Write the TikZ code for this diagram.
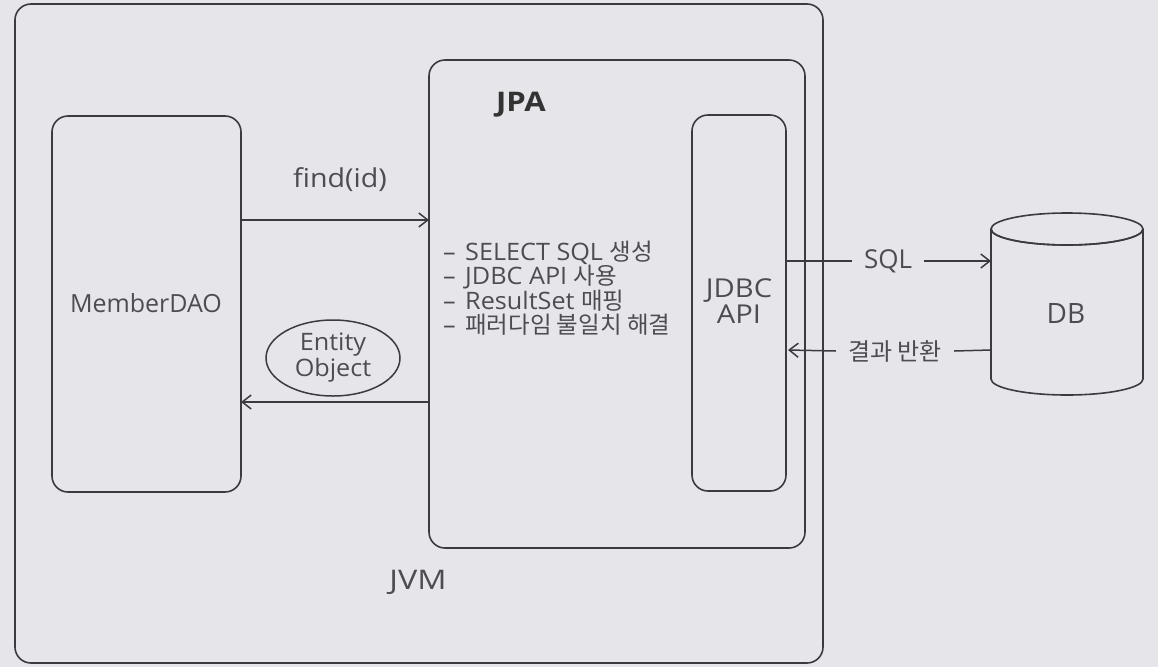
\documentclass[tikz,border=0pt]{standalone}
\usepackage{fontspec}
\setmainfont{Open Sans}
\newfontfamily\kr{Noto Sans CJK KR}
\usetikzlibrary{shapes.geometric,arrows.meta}
\definecolor{bg}{HTML}{E6E6EA}
\definecolor{ln}{HTML}{3A3A40}
\definecolor{tx}{HTML}{4C4C52}
\newcommand{\widen}[1]{\addfontfeatures{FakeStretch=#1}}
\newcommand{\krs}[1]{{\kr\fontsize{23.5}{24.5}\selectfont #1}}
\newcommand{\itm}{\makebox[22pt][l]{–}}
\tikzset{
  box/.style={draw=ln,line width=1.6pt,rounded corners=16pt},
  lbl/.style={text=tx,font=\fontsize{25}{26}\selectfont,inner sep=0pt},
  li/.style={lbl,anchor=base west,font=\fontsize{24}{24.5}\selectfont\widen{1.05}},
  arr/.style={draw=ln,line width=1.5pt,-{Straight Barb[length=9pt,width=14pt,line width=1.5pt]}},
  ln/.style={draw=ln,line width=1.5pt}
}
\begin{document}
\begin{tikzpicture}[x=1pt,y=-1pt]
\fill[bg] (0,0) rectangle (1158,667);
\useasboundingbox (0,0) rectangle (1158,667);
% JVM
\draw[box] (15,4) rectangle (823,663);
\node[lbl,font=\fontsize{27}{28}\selectfont\widen{1.2}] (jvm) at (418,582) {JVM};
% MemberDAO
\draw[box] (52,116) rectangle (241,492);
\coordinate (daoR1) at (241,220);
\coordinate (daoR2) at (241,402);
\node[lbl] (dao) at (146,303) {MemberDAO};
% JPA
\draw[box] (429,60) rectangle (805,548);
\coordinate (jpaL1) at (429,220);
\coordinate (jpaL2) at (429,402);
\node[lbl,font=\fontsize{27}{30}\selectfont\bfseries\widen{1.15},text=black!80] (jpa) at (521,105) {JPA};
\node[li] (l1) at (443,260) {\itm SELECT SQL \krs{생성}};
\node[li] (l2) at (443,284.5) {\itm JDBC API \krs{사용}};
\node[li] (l3) at (443,309) {\itm ResultSet \krs{매핑}};
\node[li] (l4) at (443,333.5) {\itm\krs{패러다임 불일치 해결}};
% JDBC API
\draw[box] (692,115) rectangle (786,491);
\node[lbl,align=center,font=\fontsize{26}{26}\selectfont\widen{1.12}] (jdbc) at (739,301) {JDBC\\API};
\coordinate (jdbcR1) at (786,261);
\coordinate (jdbcR2) at (788,350);
% find / return
\draw[arr] (daoR1) -- (jpaL1);
\node[lbl,font=\fontsize{26}{26}\selectfont\widen{1.1}] (find) at (340,180) {find(id)};
\draw[arr] (jpaL2) -- (daoR2);
\node[draw=ln,line width=1.5pt,ellipse,minimum width=134pt,minimum height=76pt,inner sep=0pt] (ent) at (333,358) {};
\node[lbl,align=center,font=\fontsize{24}{26}\selectfont\widen{1.05}] (entt) at (333,358) {Entity\\Object};
% DB
\def\dbl{991}\def\dbr{1143}\def\dbt{229}\def\dbb{379}\def\ry{16}
\draw[ln,line width=1.6pt,fill=bg] (\dbl,\dbt) -- (\dbl,\dbb) arc[start angle=180,end angle=360,x radius=76pt,y radius=\ry pt] -- (\dbr,\dbt) arc[start angle=0,end angle=360,x radius=76pt,y radius=\ry pt];
\draw[ln,line width=1.6pt] (\dbr,\dbt) arc[start angle=0,end angle=-180,x radius=76pt,y radius=\ry pt];
\node[lbl,font=\fontsize{28}{30}\selectfont] (db) at (1066,313) {DB};
\coordinate (dbL1) at (991,261);
\coordinate (dbL2) at (991,350);
% SQL
\node[lbl,font=\fontsize{26}{26}\selectfont] (sql) at (888,261) {SQL};
\draw[ln] (jdbcR1) -- ([xshift=-12pt]sql.west);
\draw[arr] ([xshift=12pt]sql.east) -- (dbL1);
% result
\node[lbl,font=\kr\fontsize{24}{26}\selectfont] (res) at (895,351) {결과 반환};
\draw[ln] (dbL2) -- ([xshift=12pt]res.east);
\draw[arr] ([xshift=-12pt]res.west) -- (jdbcR2);
\end{tikzpicture}
\end{document}
